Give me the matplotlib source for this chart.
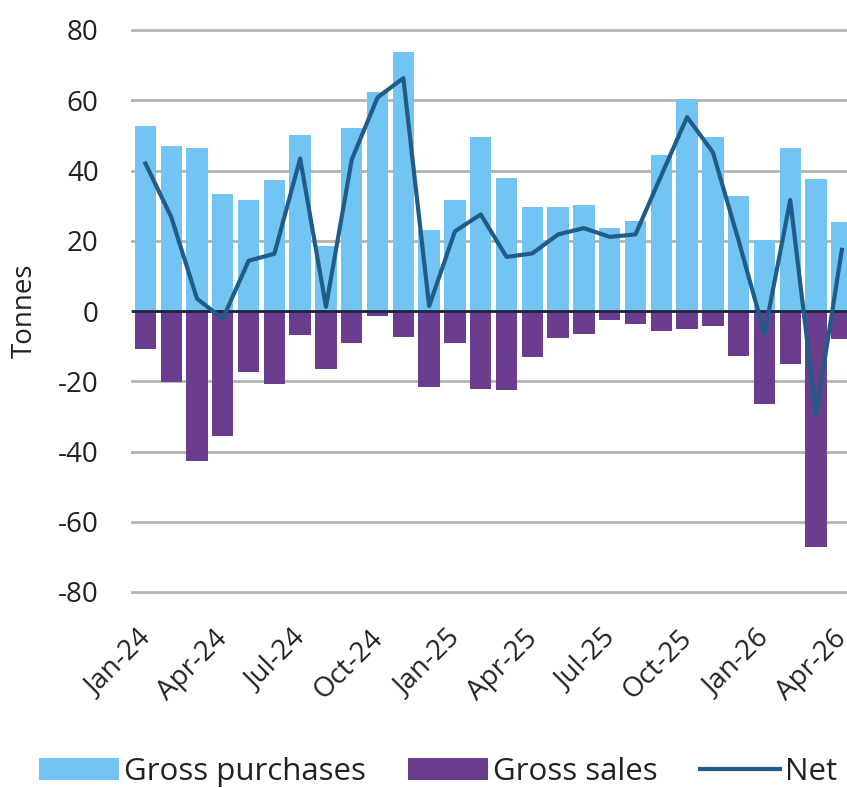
import matplotlib
matplotlib.use("Agg")
import matplotlib.pyplot as plt
from matplotlib.lines import Line2D
from matplotlib.patches import Patch
from matplotlib.transforms import ScaledTranslation
import numpy as np

months = ["Jan-24", "Feb-24", "Mar-24", "Apr-24", "May-24", "Jun-24", "Jul-24", "Aug-24",
          "Sep-24", "Oct-24", "Nov-24", "Dec-24", "Jan-25", "Feb-25", "Mar-25", "Apr-25",
          "May-25", "Jun-25", "Jul-25", "Aug-25", "Sep-25", "Oct-25", "Nov-25", "Dec-25",
          "Jan-26", "Feb-26", "Mar-26", "Apr-26"]
gross_purchases = [52.7, 47.0, 46.3, 33.4, 31.7, 37.4, 50.1, 18.4, 52.2, 62.4, 73.8, 23.2,
                   31.7, 49.5, 38.0, 29.6, 29.6, 30.1, 23.6, 25.7, 44.3, 60.3, 49.5, 32.8,
                   20.3, 46.5, 37.6, 25.2]
gross_sales = [-10.7, -20.2, -42.8, -35.6, -17.3, -20.9, -6.7, -16.6, -9.0, -1.5, -7.4, -21.5,
               -9.0, -22.1, -22.6, -13.1, -7.8, -6.5, -2.6, -3.8, -5.7, -5.1, -4.3, -12.8,
               -26.6, -15.0, -67.3, -7.9]
net = [42.0, 26.8, 3.5, -2.2, 14.3, 16.3, 43.4, 1.2, 43.1, 60.8, 66.3, 1.4,
       22.7, 27.5, 15.4, 16.4, 21.8, 23.6, 21.1, 21.8, 38.6, 55.2, 45.2, 20.0,
       -6.5, 31.6, -29.6, 17.4]
yticks = [80, 60, 40, 20, 0, -20, -40, -60, -80]

c_pur = "#72C5F3"
c_sal = "#6B3D8E"
c_net = "#205C87"
txt = "#222222"
plt.rcParams["font.family"] = ["Open Sans", "DejaVu Sans"]
plt.rcParams["axes.unicode_minus"] = False

W, H = 847, 788
fig = plt.figure(figsize=(W / 100, H / 100), dpi=100)
ax = fig.add_axes([132 / W, 1 - 592 / H, (847 - 132) / W, (592 - 30) / H])

x = np.arange(len(months))
ax.bar(x, gross_purchases, width=0.83, color=c_pur, zorder=2)
ax.bar(x, gross_sales, width=0.83, color=c_sal, zorder=2)
ax.axhline(0, color="#1f2340", lw=2, zorder=3)
ax.plot(x, net, color=c_net, lw=3.0, zorder=4)

ax.set_ylim(-80, 80)
ax.set_xlim(-0.52, 27.2)
ax.set_yticks(yticks)
ax.yaxis.grid(True, color="#b3b3b3", lw=2, zorder=1)
for gl in ax.get_ygridlines():
    gl.set_clip_on(False)
ax.set_axisbelow(True)
ax.tick_params(axis="y", length=0, labelsize=20, pad=24, labelcolor=txt)
ax.set_xticks(x[::3])
ax.set_xticklabels(months[::3], rotation=45, ha="right", rotation_mode="anchor",
                   fontsize=20, color=txt)
ax.tick_params(axis="x", length=0, pad=23.5)
off = ScaledTranslation(-9 / 100, 0, fig.dpi_scale_trans)
for lab in ax.get_xticklabels():
    lab.set_transform(lab.get_transform() + off)
for s in ax.spines.values():
    s.set_visible(False)
ax.set_ylabel("Tonnes", fontsize=20, color=txt)
ax.yaxis.set_label_coords(-0.130, 0.5)

handles = [Patch(facecolor=c_pur, edgecolor="none"),
           Patch(facecolor=c_sal, edgecolor="none"),
           Line2D([0], [0], color=c_net, lw=3.0)]
fig.legend(handles, ["Gross purchases", "Gross sales", "Net"], loc="center",
           bbox_to_anchor=(438 / W, 1 - 772 / H), ncol=3, frameon=False,
           fontsize=22.5, handlelength=2.56, handleheight=0.67, handletextpad=0.16,
           columnspacing=1.34, labelcolor=txt, borderpad=0, borderaxespad=0)

fig.savefig("out.png", dpi=100)
